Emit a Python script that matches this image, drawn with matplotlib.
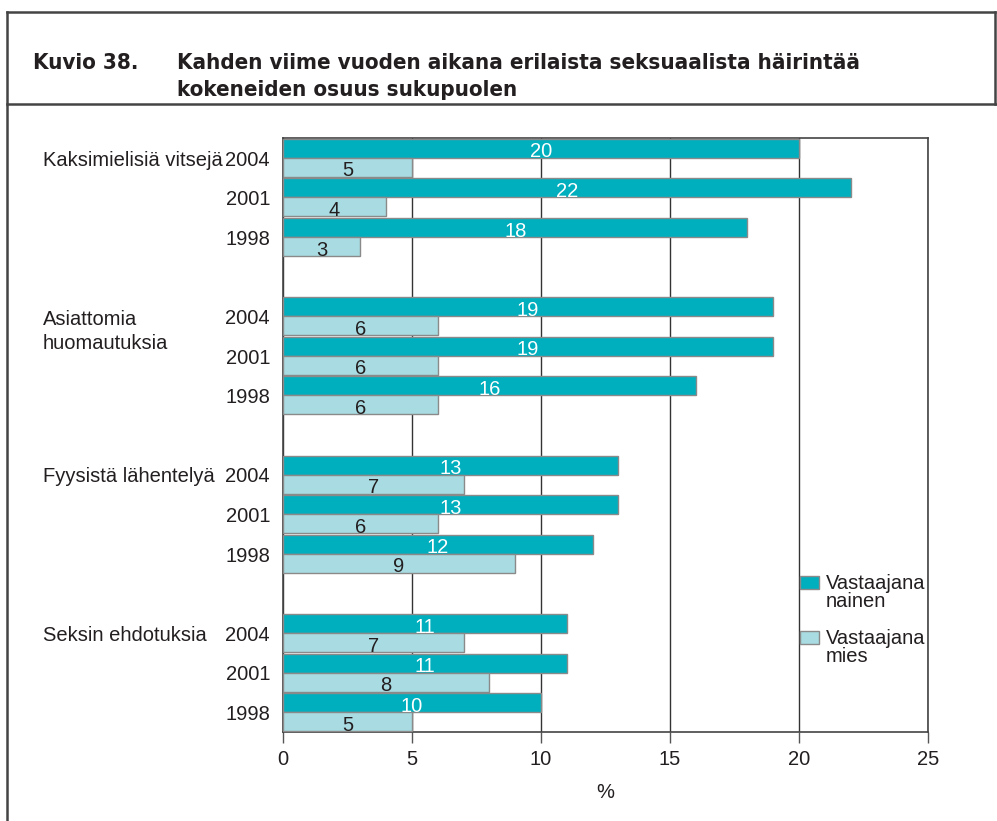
import matplotlib.pyplot as plt
from matplotlib.lines import Line2D
from matplotlib.patches import Rectangle

plt.rcParams['font.family'] = ['Liberation Sans', 'DejaVu Sans']

# Data
categories = ['Kaksimielisiä vitsejä', 'Asiattomia\nhuomautuksia',
              'Fyysistä lähentelyä', 'Seksin ehdotuksia']
years = ['2004', '2001', '1998']
naiset = [[20, 22, 18], [19, 19, 16], [13, 13, 12], [11, 11, 10]]
miehet = [[5, 4, 3], [6, 6, 6], [7, 6, 9], [7, 8, 5]]
series_labels = ['Vastaajana\nnainen', 'Vastaajana\nmies']

dark = '#00afbe'
light = '#a9dbe2'
edge = '#8a8a8a'
txt = '#231f20'

fig = plt.figure(figsize=(9.97, 8.21), dpi=100)
ax = fig.add_axes([283/997, 1-732/821, 645/997, 594/821])

bh = 0.48
for g, cat in enumerate(categories):
    for k, yr in enumerate(years):
        pos = g*4 + k
        vn = naiset[g][k]
        vm = miehet[g][k]
        ax.barh(pos - bh/2, vn, height=bh, color=dark, edgecolor=edge, lw=1, zorder=3)
        ax.barh(pos + bh/2, vm, height=bh, color=light, edgecolor=edge, lw=1, zorder=3)
        ax.text(vn/2, pos - bh/2 + 0.09, str(vn), color='white', ha='center', va='center',
                fontsize=14.5, zorder=4)
        ax.text(vm/2, pos + bh/2 + 0.09, str(vm), color=txt, ha='center', va='center',
                fontsize=14.5, zorder=4)
        ax.text(-0.5, pos + 0.06, yr, ha='right', va='center', fontsize=14.5, color=txt)
    if '\n' in cat:
        ax.text(-9.3, g*4 - 0.15, cat, ha='left', va='top', fontsize=14.5,
                color=txt, linespacing=1.3)
    else:
        ax.text(-9.3, g*4 + 0.06, cat, ha='left', va='center', fontsize=14.5, color=txt)

ax.set_xlim(0, 25)
ax.set_ylim(14.5, -0.5)
ax.set_yticks([])
ax.set_xticks(range(0, 26, 5))
ax.tick_params(axis='x', length=8, width=1, color='#555555', labelsize=14.5,
               labelcolor=txt, pad=5)
for s in ax.spines.values():
    s.set_color('#444444')
    s.set_linewidth(1.2)
ax.grid(axis='x', color='#333333', lw=1, zorder=1)
ax.set_xlabel('%', fontsize=14.5, color=txt, labelpad=10)

# legend
for i, (c, lab) in enumerate(zip([dark, light], series_labels)):
    fig.patches.append(Rectangle((800/997, 1 - 589/821 - i*55/821), 19/997, 13/821,
                                 transform=fig.transFigure, facecolor=c,
                                 edgecolor=edge, lw=1, zorder=5))
    fig.text(826/997, 1 - 574/821 - i*55/821, lab, ha='left', va='top',
             fontsize=14.5, color=txt, linespacing=0.95)

# frame around title and left border
lc = '#444444'
ttop, tbot = 1 - 12/821, 1 - 104/821
fig.add_artist(Line2D([7/997, 7/997], [0, ttop], color=lc, lw=1.8, transform=fig.transFigure))
fig.add_artist(Line2D([7/997, 995/997], [ttop, ttop], color=lc, lw=1.8, transform=fig.transFigure))
fig.add_artist(Line2D([7/997, 1], [tbot, tbot], color=lc, lw=1.8, transform=fig.transFigure))
fig.add_artist(Line2D([995/997, 995/997], [ttop, tbot], color=lc, lw=1.8, transform=fig.transFigure))

tfont = dict(family=['DejaVu Sans'], fontstretch='condensed', fontweight='bold',
             fontsize=16, color=txt, ha='left', va='center')
fig.text(33/997, 1-63/821, 'Kuvio 38.', **tfont)
fig.text(177/997, 1-63/821, 'Kahden viime vuoden aikana erilaista seksuaalista häirintää', **tfont)
fig.text(177/997, 1-90/821, 'kokeneiden osuus sukupuolen', **tfont)

fig.savefig('out.png', dpi=100)
